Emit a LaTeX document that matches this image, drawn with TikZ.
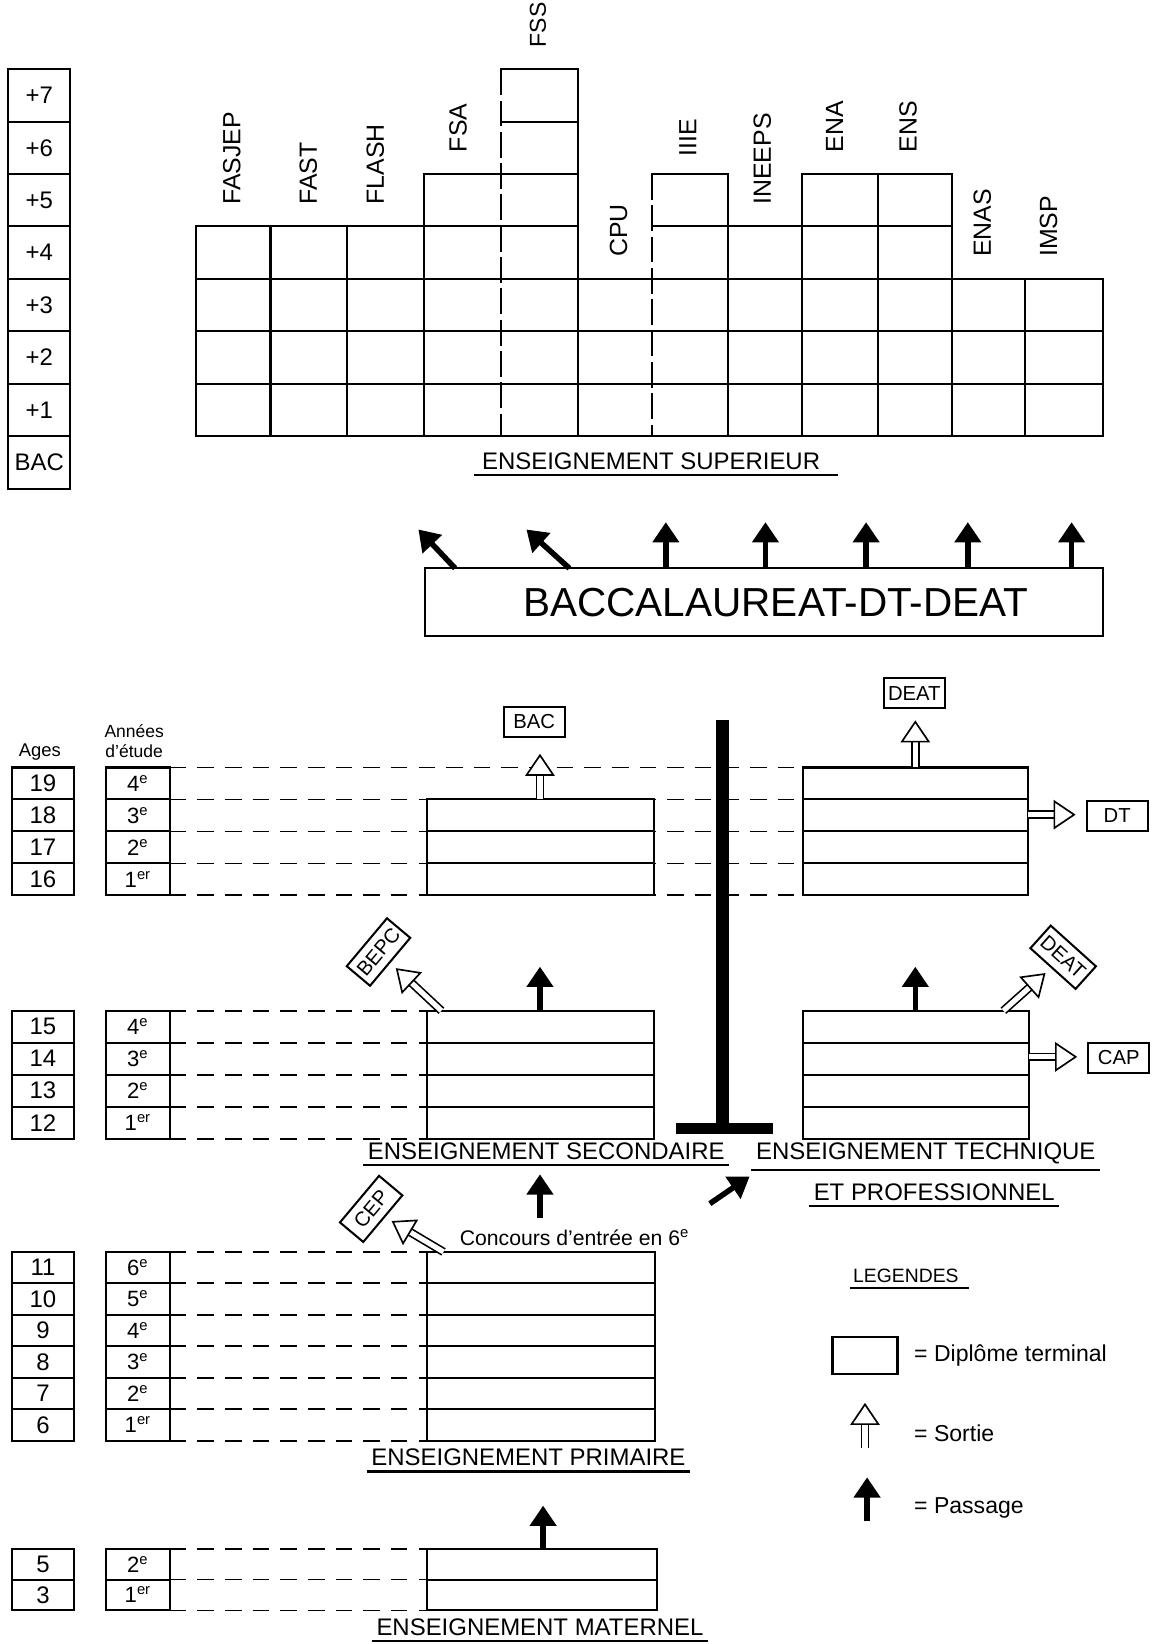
\documentclass[tikz,border=0pt]{standalone}
\usepackage{fontspec}
\setmainfont{Liberation Sans}
\usetikzlibrary{arrows.meta, positioning, calc}

\begin{document}
\begin{tikzpicture}[
    x=0.02cm, y=-0.02cm, line width=1.1pt,
    case/.style={rectangle, draw, inner sep=0pt, outer sep=0pt, minimum width=1.2cm, minimum height=0.61cm, font=\fontsize{13}{15}\selectfont},
    annee/.style={case, minimum width=1.22cm, font=\fontsize{12}{14}\selectfont},
    palier/.style={case, minimum width=1.18cm, minimum height=1cm},
    pointille/.style={line width=1pt, dash pattern=on 9pt off 6pt},
    coupure/.style={dash pattern=on 14pt off 3pt},
    etab/.style={rotate=90, anchor=west, inner sep=0pt, font=\fontsize{13.5}{16}\selectfont},
    titre/.style={inner xsep=0pt, inner ysep=2.5pt, font=\fontsize{13}{16}\selectfont},
    diplome/.style={rectangle, draw, minimum width=1.16cm, minimum height=0.58cm, inner sep=2pt, font=\fontsize{11}{13}\selectfont},
    sortie/.style={double=white, double distance=2.8pt, line width=0.9pt, -{Triangle[open, fill=white, length=12pt, width=16pt, line width=0.9pt]}},
    passage/.style={line width=3pt, -{Triangle[length=11pt, width=14pt]}},
    legende/.style={anchor=west, inner sep=0pt, font=\fontsize{12.5}{15}\selectfont}
]
\useasboundingbox (0,0) rectangle (1103,1568);

\foreach \k [count=\i from 0] in {7,6,...,1}
    \node[palier] (plus\k) at (37.5,91+50*\i) {+\k};
\node[palier] (bacniv) at (37.5,441) {BAC};

\begin{scope}[line cap=rect]
\foreach \y/\a/\b in {416/187/1052, 366/187/1052, 316/187/1052, 266/187/1052, 216/187/551, 216/622/908, 166/404/551, 166/622/694, 166/765/908, 116/478/551, 66/478/551}
    \draw (\a,\y) -- (\b,\y);
\foreach \x/\h in {187/216, 258/216, 331/216, 404/166, 551/66, 694/166, 765/166, 837/166, 908/166, 978/266, 1052/266}
    \draw (\x,\h) -- (\x,416);
\end{scope}
\foreach \x/\h in {478/66, 622/166}
    \draw[coupure] (\x,\h) -- (\x,416);

\foreach \x/\y/\nom in {221/196/FASJEP, 294/196/FAST, 358/196/FLASH, 437/146/FSA, 590/246/CPU, 656/150/IIIE, 727/196/INEEPS, 796/146/ENA, 866/146/ENS, 937/246/ENAS, 1000/246/IMSP}
    \node[etab] (\nom) at (\x,\y) {\nom};
\node[etab, font=\fontsize{12.5}{15}\selectfont] (FSS) at (513,46) {FSS};

\node[titre] (tsup) at (621,440) {ENSEIGNEMENT SUPERIEUR};
\draw ([xshift=-4pt]tsup.south west) -- ([xshift=9pt]tsup.south east);

\node[rectangle, draw, minimum width=12.94cm, minimum height=1.3cm, inner sep=0pt, outer sep=0pt] (bacbox) at (728.5,574.5) {};
\node[font=\fontsize{22}{26}\selectfont, inner sep=0pt] (bactxt) at (740,575) {BACCALAUREAT-DT-DEAT};
\foreach \d in {230,325,421,518,617}
    \draw[passage] ($(bacbox.north west)+(\d,0)$) -- ++(0,-44);
\draw[passage] ($(bacbox.north west)+(29,0)$) -- ++(-35,-37);
\draw[passage] ($(bacbox.north west)+(138,0)$) -- ++(-41,-37);

\node[font=\fontsize{10}{12}\selectfont] (ages) at (38,717) {Ages};
\node[font=\fontsize{9.5}{11}\selectfont, align=center, inner sep=0pt] (annees) at (128,707) {Années\\d'étude};

\foreach \a/\n [count=\i from 0] in {19/4\textsuperscript{e}, 18/3\textsuperscript{e}, 17/2\textsuperscript{e}, 16/1\textsuperscript{er}} {
    \node[case] (age\a) at (41,747.25+30.5*\i) {\a};
    \node[annee] (an\a) at (131.5,747.25+30.5*\i) {\n};
    \draw[pointille] (an\a.north east) -- ++(603.5,0);
}
\draw[pointille] (an16.south east) -- ++(603.5,0);

\foreach \a/\n [count=\i from 0] in {15/4\textsuperscript{e}, 14/3\textsuperscript{e}, 13/2\textsuperscript{e}, 12/1\textsuperscript{er}} {
    \node[case] (age\a) at (41,979.25+30.5*\i) {\a};
    \node[annee] (an\a) at (131.5,979.25+30.5*\i) {\n};
    \draw[pointille] (an\a.north east) -- ++(244.5,0);
}
\draw[pointille] (an12.south east) -- ++(244.5,0);

\foreach \a/\n [count=\i from 0] in {11/6\textsuperscript{e}, 10/5\textsuperscript{e}, 9/4\textsuperscript{e}, 8/3\textsuperscript{e}, 7/2\textsuperscript{e}, 6/1\textsuperscript{er}} {
    \node[case, minimum height=0.6cm] (age\a) at (41,1209+30*\i) {\a};
    \node[annee, minimum height=0.6cm] (an\a) at (131.5,1209+30*\i) {\n};
    \draw[pointille] (an\a.north east) -- ++(244.5,0);
}
\draw[pointille] (an6.south east) -- ++(244.5,0);

\foreach \a/\n [count=\i from 0] in {5/2\textsuperscript{e}, 3/1\textsuperscript{er}} {
    \node[case, minimum height=0.59cm] (age\a) at (41,1491.75+29.5*\i) {\a};
    \node[annee, minimum height=0.59cm] (an\a) at (131.5,1491.75+29.5*\i) {\n};
    \draw[pointille] (an\a.north east) -- ++(244.5,0);
}
\draw[pointille] (an3.south east) -- ++(244.5,0);

\draw[fill=white] (407,762.5) rectangle (624,854);
\foreach \y in {793,823.5} \draw (407,\y) -- (624,\y);
\draw[fill=white] (766,732) rectangle (980,854);
\foreach \y in {762.5,793,823.5} \draw (766,\y) -- (980,\y);
\draw (407,964) rectangle (624,1086);
\foreach \y in {994.5,1025,1055.5} \draw (407,\y) -- (624,\y);
\draw (766,964) rectangle (981,1086);
\foreach \y in {994.5,1025,1055.5} \draw (766,\y) -- (981,\y);
\draw (407,1194) rectangle (625,1374);
\foreach \y in {1224,1254,...,1344} \draw (407,\y) -- (625,\y);
\draw (407,1477) rectangle (627,1536);
\draw (407,1506.5) -- (627,1506.5);

\fill (683,687) rectangle (695,1077);
\fill (645,1071) rectangle (737,1082);

\node[diplome] (bac) at (509.5,688.5) {BAC};
\node[diplome] (deat) at (872,661) {DEAT};
\node[diplome] (dt) at (1065.5,778) {DT};
\node[diplome] (cap) at (1067,1009) {CAP};
\node[diplome, rotate=50] (bepc) at (361,908) {BEPC};
\node[diplome, rotate=50] (cep) at (354,1153) {CEP};
\node[diplome, rotate=-42] (deat2) at (1014,913) {DEAT};

\coordinate (secbac) at (515,762.5);
\coordinate (techdeat) at (873,732);
\coordinate (techdt) at (980,777);
\coordinate (techcap) at (981,1008);
\coordinate (secbepc) at (421,964);
\coordinate (primcep) at (423,1194);
\coordinate (techdeat2) at (957,964);
\draw[sortie, shorten >=8.5pt] (secbac) -- (secbac |- bac.south);
\draw[sortie, shorten >=6pt] (techdeat) -- (techdeat |- deat.south);
\draw[sortie, shorten >=5.5pt] (techdt) -- (techdt -| dt.west);
\draw[sortie, shorten >=5.5pt] (techcap) -- (techcap -| cap.west);
\draw[sortie, shorten >=4pt] (secbepc) -- (bepc);
\draw[sortie, shorten >=4pt] (primcep) -- (cep);
\draw[sortie, shorten >=4pt] (techdeat2) -- (deat2);

\coordinate (secup) at (515,964);
\coordinate (techup) at (873,964);
\coordinate (primup) at (515,1162);
\coordinate (techdiag) at (677,1148);
\coordinate (matup) at (518,1477);
\draw[passage] (secup) -- ++(0,-42);
\draw[passage] (techup) -- ++(0,-42);
\draw[passage] (primup) -- ++(0,-42);
\draw[passage] (techdiag) -- ++(38,-26);
\draw[passage] (matup) -- ++(0,-41);

\node[font=\fontsize{11.5}{13}\selectfont] (concours) at (548,1180) {Concours d'entrée en 6\textsuperscript{e}};

\node[titre] (tsec) at (521,1098) {ENSEIGNEMENT SECONDAIRE};
\draw ([xshift=-2pt]tsec.south west) -- ([xshift=2pt]tsec.south east);
\node[titre] (ttech) at (883,1100) {ENSEIGNEMENT TECHNIQUE};
\draw ([xshift=-2pt]ttech.south west) -- ([xshift=2pt]ttech.south east);
\node[titre] (tpro) at (891,1137) {ET PROFESSIONNEL};
\draw ([xshift=-2pt]tpro.south west) -- ([xshift=2pt]tpro.south east);
\node[titre] (tprim) at (504,1390) {ENSEIGNEMENT PRIMAIRE};
\draw ([xshift=-2pt]tprim.south west) -- ([xshift=2pt]tprim.south east);
\node[titre] (tmat) at (515,1552) {ENSEIGNEMENT MATERNEL};
\draw ([xshift=-2pt]tmat.south west) -- ([xshift=2pt]tmat.south east);

\node[titre, font=\fontsize{10.5}{12}\selectfont] (tleg) at (864,1217) {LEGENDES};
\draw ([xshift=-1pt]tleg.south west) -- ([xshift=5pt]tleg.south east);
\node[rectangle, draw, minimum width=1.24cm, minimum height=0.7cm] (legdip) at (825,1293) {};
\node[legende] (txtdip) at (871,1293) {= Diplôme terminal};
\coordinate (legs1) at (825,1381);
\coordinate (legs2) at (825,1338);
\draw[sortie] (legs1) -- (legs2);
\node[legende] (txtsortie) at (871,1367) {= Sortie};
\coordinate (legp1) at (827,1451);
\coordinate (legp2) at (827,1409);
\draw[passage] (legp1) -- (legp2);
\node[legende] (txtpassage) at (871,1438) {= Passage};

\end{tikzpicture}
\end{document}
